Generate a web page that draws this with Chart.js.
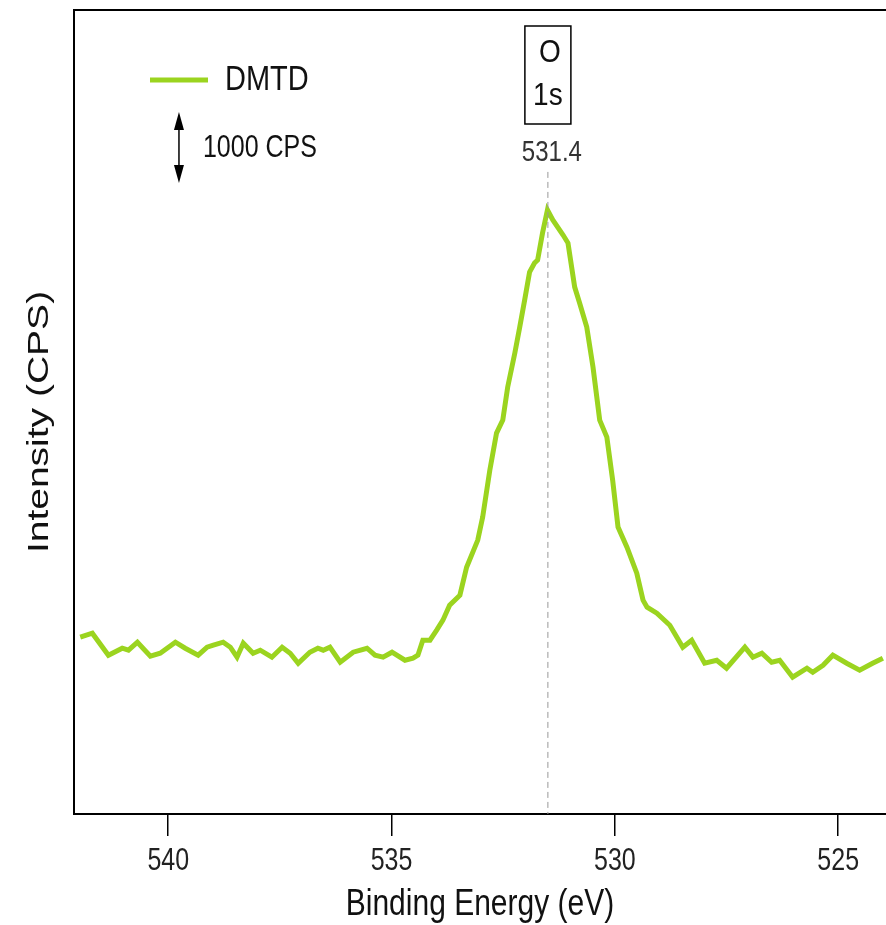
<!DOCTYPE html>
<html>
<head>
<meta charset="utf-8">
<script src="https://cdn.jsdelivr.net/npm/chart.js@4"></script>
<style>
  html, body { margin: 0; padding: 0; background: #fff; }
  #wrap { width: 886px; height: 925px; }
</style>
</head>
<body>
<div id="wrap"><canvas id="myChart" width="886" height="925"></canvas></div>
<script>
// O 1s spectrum of DMTD
const bindingEnergy = [
  541.97, 541.70, 541.34, 541.03, 540.89, 540.69, 540.40, 540.18, 539.84, 539.62,
  539.33, 539.13, 538.99, 538.77, 538.61, 538.46, 538.32, 538.10, 537.94, 537.68,
  537.45, 537.27, 537.09, 536.83, 536.65, 536.53, 536.38, 536.15, 535.86, 535.55,
  535.37, 535.19, 534.99, 534.70, 534.52, 534.41, 534.30, 534.14, 533.99, 533.85,
  533.70, 533.47, 533.32, 533.07, 532.96, 532.80, 532.65, 532.51, 532.40, 532.24,
  532.13, 532.02, 531.91, 531.80, 531.73, 531.62, 531.51, 531.39, 531.16, 531.05,
  530.90, 530.79, 530.63, 530.49, 530.34, 530.18, 530.05, 529.93, 529.73, 529.51,
  529.37, 529.28, 529.06, 528.77, 528.48, 528.28, 527.99, 527.72, 527.50, 527.09,
  526.91, 526.71, 526.49, 526.31, 526.02, 525.70, 525.57, 525.34, 525.12, 524.81,
  524.52, 524.23, 524.00
];
const intensityCPS = [
  2550, 2605, 2295, 2394, 2366, 2479, 2282, 2324, 2479, 2394,
  2296, 2409, 2437, 2479, 2409, 2268, 2465, 2324, 2366, 2268,
  2409, 2324, 2183, 2338, 2394, 2366, 2409, 2197, 2338, 2394,
  2296, 2268, 2338, 2225, 2254, 2296, 2507, 2507, 2648, 2789,
  3000, 3141, 3535, 3916, 4240, 4902, 5423, 5606, 6071, 6550,
  6916, 7296, 7690, 7817, 7859, 8240, 8564, 8423, 8212, 8099,
  7479, 7254, 6916, 6352, 5606, 5366, 4761, 4099, 3817, 3451,
  3071, 2972, 2887, 2718, 2409, 2507, 2183, 2225, 2113, 2409,
  2268, 2324, 2197, 2225, 1986, 2113, 2056, 2155, 2296, 2183,
  2085, 2183, 2254
];
const xTickValues = [540, 535, 530, 525];
const seriesName = "DMTD";
const peakName = ["O", "1s"];
const peakLine = 531.5;        // where the dashed marker sits on the axis
const peakLabel = "531.4";
const scaleBarCPS = 1000;
const scaleBarLabel = "1000 CPS";
const scaleBarAt = { x: 539.76, top: 9944 };
const peakLineTop = 9100;

const green = "#9bd41f";
const FONT = "'Liberation Sans', Arial, sans-serif";
const STRETCH = 1.22; // the original figure's lettering is drawn tall and narrow

const points = bindingEnergy.map((e, i) => ({ x: e, y: intensityCPS[i] }));

// text drawn taller than wide, like the scanned figure
function tallText(ctx, text, x, y, size, color, align, sy) {
  ctx.save();
  ctx.translate(x, y);
  ctx.scale(1, sy || STRETCH);
  ctx.fillStyle = color;
  ctx.font = size + "px " + FONT;
  ctx.textAlign = align || "center";
  ctx.textBaseline = "middle";
  ctx.fillText(text, 0, 0);
  ctx.restore();
}

// frame, labels, legend and peak annotation
const decorations = {
  id: "decorations",
  afterDraw(chart) {
    const { ctx, chartArea: a, scales: { x, y } } = chart;
    ctx.save();

    // left and top frame lines
    ctx.strokeStyle = "#000";
    ctx.lineWidth = 2;
    ctx.beginPath();
    ctx.moveTo(a.left, a.bottom);
    ctx.lineTo(a.left, a.top);
    ctx.lineTo(a.right, a.top);
    ctx.stroke();

    // x tick labels and title
    xTickValues.forEach(v => {
      tallText(ctx, String(v), x.getPixelForValue(v), a.bottom + 48, 25, "#222");
    });
    tallText(ctx, "Binding Energy (eV)", (a.left + a.right) / 2, a.bottom + 91, 30, "#111");

    // y title (stretched along its length)
    ctx.save();
    ctx.translate(40, (a.top + a.bottom) / 2 + 10);
    ctx.rotate(-Math.PI / 2);
    ctx.scale(1.3, 1);
    ctx.fillStyle = "#111";
    ctx.font = "30px " + FONT;
    ctx.textAlign = "center";
    ctx.textBaseline = "middle";
    ctx.fillText("Intensity (CPS)", 0, 0);
    ctx.restore();

    // legend
    ctx.strokeStyle = green;
    ctx.lineWidth = 5;
    ctx.beginPath();
    ctx.moveTo(a.left + 76, a.top + 70);
    ctx.lineTo(a.left + 134, a.top + 70);
    ctx.stroke();
    tallText(ctx, seriesName, a.left + 151, a.top + 70, 29, "#111", "left");

    // scale bar: double arrow of 1000 CPS
    const bx = x.getPixelForValue(scaleBarAt.x);
    const bt = y.getPixelForValue(scaleBarAt.top);
    const bb = y.getPixelForValue(scaleBarAt.top - scaleBarCPS);
    ctx.strokeStyle = "#000";
    ctx.fillStyle = "#000";
    ctx.lineWidth = 1.5;
    ctx.beginPath();
    ctx.moveTo(bx, bt + 8);
    ctx.lineTo(bx, bb - 8);
    ctx.stroke();
    ctx.beginPath();
    ctx.moveTo(bx, bt);
    ctx.lineTo(bx - 5, bt + 18);
    ctx.lineTo(bx + 5, bt + 18);
    ctx.closePath();
    ctx.fill();
    ctx.beginPath();
    ctx.moveTo(bx, bb);
    ctx.lineTo(bx - 5, bb - 18);
    ctx.lineTo(bx + 5, bb - 18);
    ctx.closePath();
    ctx.fill();
    tallText(ctx, scaleBarLabel, bx + 24, (bt + bb) / 2 + 1, 25, "#111", "left");

    // dashed peak marker
    const px = x.getPixelForValue(peakLine);
    ctx.strokeStyle = "#999";
    ctx.lineWidth = 1;
    ctx.setLineDash([6, 4]);
    ctx.beginPath();
    ctx.moveTo(px, y.getPixelForValue(peakLineTop));
    ctx.lineTo(px, a.bottom);
    ctx.stroke();
    ctx.setLineDash([]);

    // boxed peak name
    ctx.strokeStyle = "#000";
    ctx.lineWidth = 1.5;
    ctx.strokeRect(px - 23, a.top + 16, 46, 98);
    tallText(ctx, peakName[0], px + 2, a.top + 44, 28, "#111", "center", 1.1);
    tallText(ctx, peakName[1], px, a.top + 86, 28, "#111", "center", 1.15);
    tallText(ctx, peakLabel, px + 4, a.top + 143, 24, "#333");

    ctx.restore();
  }
};

const ctx = document.getElementById("myChart").getContext("2d");
const chart = new Chart(ctx, {
  type: "line",
  data: {
    datasets: [{
      label: seriesName,
      data: points,
      borderColor: green,
      borderWidth: 5,
      pointRadius: 0,
      tension: 0,
      fill: false
    }]
  },
  options: {
    responsive: false,
    animation: false,
    layout: { padding: { top: 10, left: 74, right: 0, bottom: 0 } },
    plugins: {
      legend: { display: false },
      tooltip: { enabled: false }
    },
    scales: {
      x: {
        type: "linear",
        reverse: true,
        min: 523.93,
        max: 542.11,
        afterBuildTicks: (s) => { s.ticks = xTickValues.map(v => ({ value: v })); },
        afterFit: (s) => { s.height = 111; },
        grid: { drawOnChartArea: false, drawTicks: true, tickLength: 22, color: "#000", lineWidth: 1.5 },
        border: { display: true, color: "#000", width: 2 },
        // labels are drawn by the decorations plugin
        ticks: { color: "rgba(0,0,0,0)", font: { family: FONT, size: 25 }, padding: 8, maxRotation: 0 },
        title: { display: false }
      },
      y: {
        display: false,
        min: 60,
        max: 11380
      }
    }
  },
  plugins: [decorations]
});
</script>
</body>
</html>
